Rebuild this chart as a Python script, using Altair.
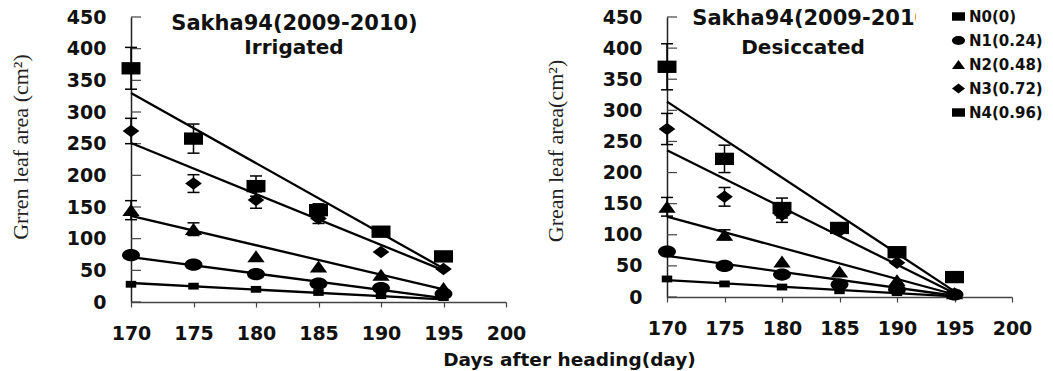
import altair as alt
import pandas as pd

# ---------------- data ----------------
days = [170, 175, 180, 185, 190, 195]
series = ["N0(0)", "N1(0.24)", "N2(0.48)", "N3(0.72)", "N4(0.96)"]
x_ticks = [170, 175, 180, 185, 190, 195, 200]
y_ticks = [0, 50, 100, 150, 200, 250, 300, 350, 400, 450]

# Irrigated
irr_n0 = [28, 25, 20, 15, 10, 7]
irr_n1 = [74, 59, 44, 29, 22, 13]
irr_n2 = [145, 115, 72, 56, 43, 22]
irr_n3 = [270, 187, 161, 132, 79, 52]
irr_n4 = [369, 258, 183, 145, 111, 72]
irr_err_n0 = [0, 0, 0, 0, 0, 0]
irr_err_n1 = [0, 0, 0, 0, 0, 0]
irr_err_n2 = [15, 10, 0, 0, 0, 0]
irr_err_n3 = [20, 14, 13, 8, 0, 0]
irr_err_n4 = [33, 23, 16, 10, 0, 0]
irr_fit_170 = [30, 71, 136, 251, 330]
irr_fit_195 = [4, 6, 20, 50, 53]

# Desiccated
des_n0 = [29, 21, 16, 10, 7, 2]
des_n1 = [73, 50, 36, 20, 12, 4]
des_n2 = [145, 100, 57, 41, 27, 6]
des_n3 = [270, 161, 132, 106, 55, 5]
des_n4 = [370, 222, 143, 111, 72, 32]
des_err_n0 = [0, 0, 0, 0, 0, 0]
des_err_n1 = [0, 0, 0, 0, 0, 0]
des_err_n2 = [15, 8, 0, 0, 0, 0]
des_err_n3 = [25, 15, 12, 0, 0, 0]
des_err_n4 = [37, 22, 16, 0, 0, 0]
des_fit_170 = [27, 66, 129, 236, 314]
des_fit_195 = [1, 2, 4, 6, 9]

# ---------------- styling ----------------
SQUARE = "M-1,-0.65L1,-0.65L1,0.65L-1,0.65Z"
ELLIPSE = "M-1,0A1,0.68,0,1,1,1,0A1,0.68,0,1,1,-1,0Z"
TRIANGLE = "M0,-0.7L1,0.68L-1,0.68Z"
DIAMOND = "M0,-0.75L1,0L0,0.75L-1,0Z"
shape_range = [SQUARE, ELLIPSE, TRIANGLE, DIAMOND, SQUARE]
marker_area = {"N0(0)": 110, "N1(0.24)": 320, "N2(0.48)": 300,
               "N3(0.72)": 280, "N4(0.96)": 360}

SANS = "DejaVu Sans"
SERIF = "Liberation Serif"
INK = "#111111"


def make_frames(vals, errs, fit_a, fit_b):
    pts, eb = [], []
    for s, v, e in zip(series, vals, errs):
        for d, yv, ev in zip(days, v, e):
            pts.append({"series": s, "day": d, "value": yv, "msize": marker_area[s]})
            if ev > 0:
                eb.append({"series": s, "day": d, "lo": yv - ev, "hi": yv + ev})
    fit = []
    for s, a, b in zip(series, fit_a, fit_b):
        fit.append({"series": s, "day": days[0], "fit": a})
        fit.append({"series": s, "day": days[-1], "fit": b})
    ticks = pd.DataFrame({"day": [days[0]] * len(y_ticks), "tick": y_ticks})
    return pd.DataFrame(pts), pd.DataFrame(eb), pd.DataFrame(fit), ticks


def panel(vals, errs, fit_a, fit_b, ytitle, sub, w, h, ytitle_pos, sub_pos, show_legend):
    pts, eb, fit, ticks = make_frames(vals, errs, fit_a, fit_b)
    xaxis = alt.Axis(values=x_ticks, title=None, grid=False, tickSize=5,
                     tickColor="#444", tickWidth=1.2, labelPadding=17,
                     labelFont=SANS, labelFontWeight="bold", labelFontSize=19,
                     labelColor=INK, domainColor="#444", domainWidth=1.5,
                     labelFlush=False)
    yaxis = alt.Axis(values=y_ticks, title=None, grid=False, ticks=False,
                     labelPadding=25, labelFont=SANS, labelFontWeight="bold",
                     labelFontSize=19, labelColor=INK, domainColor="#222",
                     domainWidth=1.5)
    xs = alt.Scale(domain=[170, 200], nice=False, zero=False)
    ys = alt.Scale(domain=[0, 450], nice=False)

    def X(f):
        return alt.X(f"{f}:Q", scale=xs, axis=xaxis)

    def Y(f):
        return alt.Y(f"{f}:Q", scale=ys, axis=yaxis)

    if show_legend:
        leg = alt.Legend(title=None, orient="none", legendX=249, legendY=-14,
                         fillColor="white", padding=6, symbolOffset=29,
                         symbolSize=170, symbolFillColor="black",
                         symbolStrokeColor="black", symbolStrokeWidth=0,
                         labelFont=SANS, labelFontWeight="bold",
                         labelFontSize=15, labelColor=INK, labelOffset=3,
                         rowPadding=8, zindex=2)
    else:
        leg = None

    points = alt.Chart(pts).mark_point(filled=True, opacity=1, color="black",
                                       strokeWidth=0).encode(
        x=X("day"), y=Y("value"),
        shape=alt.Shape("series:N", scale=alt.Scale(domain=series, range=shape_range),
                        legend=leg),
        size=alt.Size("msize:Q", scale=None, legend=None),
    )
    rules = alt.Chart(eb).mark_rule(color="black", strokeWidth=1.5).encode(
        x=X("day"), y=Y("lo"), y2="hi")
    cap_lo = alt.Chart(eb).mark_tick(orient="horizontal", size=12, thickness=1.5,
                                     color="black", opacity=1).encode(x=X("day"), y=Y("lo"))
    cap_hi = alt.Chart(eb).mark_tick(orient="horizontal", size=12, thickness=1.5,
                                     color="black", opacity=1).encode(x=X("day"), y=Y("hi"))
    lines = alt.Chart(fit).mark_line(color="black", strokeWidth=2.3).encode(
        x=X("day"), y=Y("fit"), detail="series:N")
    inner = alt.Chart(ticks).mark_tick(orient="horizontal", size=10, thickness=1.2,
                                       xOffset=5, color="#444", opacity=1).encode(
        x=X("day"), y=Y("tick"))

    # y-axis title (rotated) and panel sub-heading as text annotations
    ylab = alt.Chart(pd.DataFrame({"t": [ytitle]})).mark_text(
        angle=270, baseline="bottom", align="center", font=SERIF, fontSize=22,
        color="#222").encode(text="t:N", x=alt.value(ytitle_pos[0]),
                             y=alt.value(ytitle_pos[1]))
    subt = alt.Chart(pd.DataFrame({"t": [sub]})).mark_text(
        baseline="alphabetic", align="center", font=SANS, fontSize=20,
        fontWeight="bold", color=INK).encode(text="t:N", x=alt.value(sub_pos[0]),
                                            y=alt.value(sub_pos[1]))

    return alt.layer(inner, lines, rules, cap_lo, cap_hi, points, ylab, subt).properties(
        width=w, height=h,
        title=alt.TitleParams(text="Sakha94(2009-2010)", font=SANS,
                              fontSize=21, fontWeight="bold", color=INK,
                              anchor="middle", dx=-24, dy=26, offset=0),
    )


left = panel([irr_n0, irr_n1, irr_n2, irr_n3, irr_n4],
             [irr_err_n0, irr_err_n1, irr_err_n2, irr_err_n3, irr_err_n4],
             irr_fit_170, irr_fit_195, "Grren leaf area (cm²)", "Irrigated",
             375, 285, (-98, 130), (163, 37), False)
right = panel([des_n0, des_n1, des_n2, des_n3, des_n4],
              [des_err_n0, des_err_n1, des_err_n2, des_err_n3, des_err_n4],
              des_fit_170, des_fit_195, "Grean leaf area(cm²)", "Desiccated",
              345, 280, (-99, 134), (136, 37), True)

chart = alt.hconcat(left, right, spacing=161, bounds="flush").resolve_scale(
    x="independent", y="independent", shape="independent"
).resolve_legend(shape="independent").properties(
    title=alt.TitleParams("Days after heading(day)", orient="bottom", anchor="middle",
                          font=SANS, fontSize=18.5, fontWeight="bold", color=INK,
                          offset=8, dx=40),
    padding={"left": 10, "top": 3, "right": 0, "bottom": 0},
    background="white",
).configure_view(stroke=None)

chart.save("out.html", embed_options={"renderer": "svg", "actions": False})
